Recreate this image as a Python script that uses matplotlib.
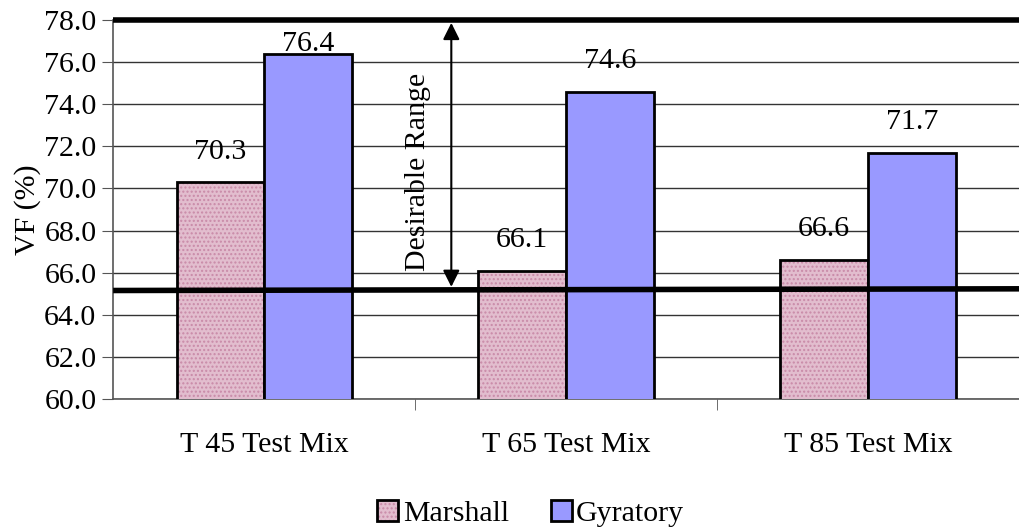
import numpy as np
import matplotlib.pyplot as plt
from matplotlib.patches import Patch

plt.rcParams['font.family'] = ['Liberation Serif', 'DejaVu Serif']

# data
mixes = ["T 45 Test Mix", "T 65 Test Mix", "T 85 Test Mix"]
marshall = [70.3, 66.1, 66.6]
gyratory = [76.4, 74.6, 71.7]
range_low = [65.15, 65.23]   # thick line, left end / right end
range_high = 78.0

pink = "#E2BDCE"
pink_dots = "#C98AA8"
blue = "#9999FF"
fs = 21.5

fig = plt.figure(figsize=(10.19, 5.29), dpi=100)
ax = fig.add_axes([0.111, 0.246, 0.889, 0.716])

x = np.arange(len(mixes))
w = 0.29

#bars
ax.bar(x - w / 2, marshall, w, color=pink, hatch="....", edgecolor=pink_dots, linewidth=0, zorder=3)
ax.bar(x - w / 2, marshall, w, color="none", edgecolor="black", linewidth=2, zorder=4)
ax.bar(x + w / 2, gyratory, w, color=blue, edgecolor="black", linewidth=2, zorder=4)

#value labels
for xi, m, g in zip(x, marshall, gyratory):
    ax.text(xi - w / 2, min(m + 1.45, 76.85), f"{m:.1f}", ha="center", va="center", fontsize=fs, zorder=6)
    ax.text(xi + w / 2, min(g + 1.45, 76.85), f"{g:.1f}", ha="center", va="center", fontsize=fs, zorder=6)

#desirable range lines
ax.plot([-0.5, 2.5], range_low, color="black", lw=4, zorder=5, solid_capstyle="butt")
ax.plot([-0.5, 2.5], [range_high, range_high], color="black", lw=4, zorder=5,
        solid_capstyle="butt", clip_on=False)
ax.annotate("", xy=(0.62, range_high), xytext=(0.62, np.mean(range_low)),
            arrowprops=dict(arrowstyle="<|-|>", color="black", lw=1.5, mutation_scale=25),
            zorder=6)
ax.text(0.51, 70.8, "Desirable Range", rotation=90, ha="center", va="center", fontsize=fs, zorder=6)

#axes
ax.set_xlim(-0.5, 2.5)
ax.set_ylim(60, 78)
ax.set_yticks(np.arange(60, 78.1, 2))
ax.set_yticklabels([f"{v:.1f}" for v in np.arange(60, 78.1, 2)], fontsize=fs)
ax.set_xticks(x)
ax.set_xticklabels(mixes, fontsize=fs)
ax.set_xticks([0.5, 1.5], minor=True)
ax.tick_params(axis="x", which="major", length=0, pad=24)
ax.tick_params(axis="x", which="minor", length=8, color="#555555")
ax.tick_params(axis="y", length=8, color="#555555", pad=4)
ax.yaxis.grid(True, color="#333333", lw=1, zorder=0)
ax.set_axisbelow(True)
for s in ["top", "right"]:
    ax.spines[s].set_visible(False)
ax.spines["left"].set_color("#555555")
ax.spines["bottom"].set_color("#555555")
ax.spines["left"].set_linewidth(1.2)
ax.spines["bottom"].set_linewidth(1.2)
ax.set_ylabel("VF (%)", fontsize=fs, labelpad=2)

#legend
h_m = (Patch(facecolor=pink, hatch="....", edgecolor=pink_dots, lw=0),
       Patch(facecolor="none", edgecolor="black", lw=2))
h_b = Patch(facecolor=blue, edgecolor="black", lw=2)
fig.legend([h_m, h_b], ["Marshall", "Gyratory"], loc="center", bbox_to_anchor=(0.521, 0.03),
           ncol=2, frameon=False, fontsize=fs, handlelength=0.7, handleheight=0.7,
           handletextpad=0.15, columnspacing=1.4, borderpad=0)

fig.savefig("out.png", dpi=100)
